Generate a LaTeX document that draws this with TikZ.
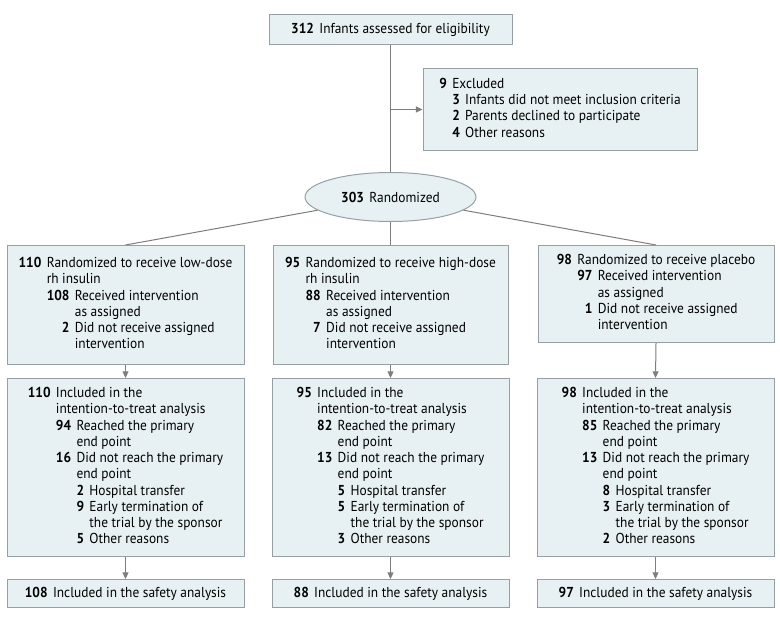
\documentclass[tikz,border=0pt]{standalone}
\usepackage{fontspec}
\setmainfont[FakeStretch=0.93]{PT Sans}
\usetikzlibrary{arrows.meta,shapes.geometric}
\definecolor{boxfill}{RGB}{231,241,244}
\definecolor{boxline}{RGB}{150,160,164}
\definecolor{linkgray}{RGB}{125,125,125}
\newcommand{\cnt}[1]{\textbf{#1}}
\tikzset{
  box/.style={draw=boxline, fill=boxfill, line width=0.75pt, inner sep=0pt, anchor=north,
    font=\fontsize{10.8}{12.2}\selectfont, align=left},
  link/.style={draw=linkgray, line width=0.75pt},
  arrow/.style={link, -{Triangle[length=5pt,width=4.5pt]}}
}
\begin{document}
\begin{tikzpicture}[x=0.75pt,y=0.75pt,yscale=-1,xscale=1]
\useasboundingbox (0,0) rectangle (780,620);

%Top box
\node [box, minimum width=182.25pt, minimum height=22.5pt] (elig) at (390.5,14) {\cnt{312}\hspace{4pt}Infants assessed for eligibility};
%Excluded
\node [box, minimum width=205.5pt, minimum height=61.5pt] (excl) at (560,68) {%
\begin{tabular}{@{}r@{\hspace{4pt}}r@{\hspace{4pt}}l@{}}
\cnt{9} & \multicolumn{2}{@{}l@{}}{Excluded}\\
 & \cnt{3} & Infants did not meet inclusion criteria\\
 & \cnt{2} & Parents declined to participate\\
 & \cnt{4} & Other reasons
\end{tabular}};
%Randomized
\node [box, ellipse, anchor=center, minimum width=128.25pt, minimum height=36.75pt] (rand) at (390.5,197) {\cnt{303}\hspace{4pt}Randomized};

%Arms
\node [box, minimum width=177.75pt, minimum height=89.25pt] (arm1) at (125.5,245) {%
\begin{tabular}{@{}r@{\hspace{4pt}}r@{\hspace{4pt}}l@{}}
\cnt{110} & \multicolumn{2}{@{}l@{}}{Randomized to receive low-dose}\\
 & \multicolumn{2}{@{}l@{}}{rh insulin}\\
 & \cnt{108} & Received intervention\\
 & & as assigned\\
 & \cnt{2} & Did not receive assigned\\
 & & intervention
\end{tabular}};
\node [box, minimum width=176.25pt, minimum height=89.25pt] (arm2) at (390.5,245) {%
\begin{tabular}{@{}r@{\hspace{4pt}}r@{\hspace{4pt}}l@{}}
\cnt{95} & \multicolumn{2}{@{}l@{}}{Randomized to receive high-dose}\\
 & \multicolumn{2}{@{}l@{}}{rh insulin}\\
 & \cnt{88} & Received intervention\\
 & & as assigned\\
 & \cnt{7} & Did not receive assigned\\
 & & intervention
\end{tabular}};
\node [box, minimum width=177pt, minimum height=72.75pt] (arm3) at (656,245) {%
\begin{tabular}{@{}r@{\hspace{4pt}}r@{\hspace{4pt}}l@{}}
\cnt{98} & \multicolumn{2}{@{}l@{}}{Randomized to receive placebo}\\
 & \cnt{97} & Received intervention\\
 & & as assigned\\
 & \cnt{1} & Did not receive assigned\\
 & & intervention
\end{tabular}};

%Intention-to-treat
\node [box, minimum width=177.75pt, minimum height=133.5pt] (itt1) at (125.5,378) {%
\begin{tabular}{@{}r@{\hspace{4pt}}r@{\hspace{4pt}}r@{\hspace{4pt}}l@{}}
\cnt{110} & \multicolumn{3}{@{}l@{}}{Included in the}\\
 & \multicolumn{3}{@{}l@{}}{intention-to-treat analysis}\\
 & \cnt{94} & \multicolumn{2}{@{}l@{}}{Reached the primary}\\
 & & \multicolumn{2}{@{}l@{}}{end point}\\
 & \cnt{16} & \multicolumn{2}{@{}l@{}}{Did not reach the primary}\\
 & & \multicolumn{2}{@{}l@{}}{end point}\\
 & & \cnt{2} & Hospital transfer\\
 & & \cnt{9} & Early termination of\\
 & & & the trial by the sponsor\\
 & & \cnt{5} & Other reasons
\end{tabular}};
\node [box, minimum width=177.75pt, minimum height=133.5pt] (itt2) at (390.5,378) {%
\begin{tabular}{@{}r@{\hspace{4pt}}r@{\hspace{4pt}}r@{\hspace{4pt}}l@{}}
\cnt{95} & \multicolumn{3}{@{}l@{}}{Included in the}\\
 & \multicolumn{3}{@{}l@{}}{intention-to-treat analysis}\\
 & \cnt{82} & \multicolumn{2}{@{}l@{}}{Reached the primary}\\
 & & \multicolumn{2}{@{}l@{}}{end point}\\
 & \cnt{13} & \multicolumn{2}{@{}l@{}}{Did not reach the primary}\\
 & & \multicolumn{2}{@{}l@{}}{end point}\\
 & & \cnt{5} & Hospital transfer\\
 & & \cnt{5} & Early termination of\\
 & & & the trial by the sponsor\\
 & & \cnt{3} & Other reasons
\end{tabular}};
\node [box, minimum width=177.75pt, minimum height=133.5pt] (itt3) at (655.5,378) {%
\begin{tabular}{@{}r@{\hspace{4pt}}r@{\hspace{4pt}}r@{\hspace{4pt}}l@{}}
\cnt{98} & \multicolumn{3}{@{}l@{}}{Included in the}\\
 & \multicolumn{3}{@{}l@{}}{intention-to-treat analysis}\\
 & \cnt{85} & \multicolumn{2}{@{}l@{}}{Reached the primary}\\
 & & \multicolumn{2}{@{}l@{}}{end point}\\
 & \cnt{13} & \multicolumn{2}{@{}l@{}}{Did not reach the primary}\\
 & & \multicolumn{2}{@{}l@{}}{end point}\\
 & & \cnt{8} & Hospital transfer\\
 & & \cnt{3} & Early termination of\\
 & & & the trial by the sponsor\\
 & & \cnt{2} & Other reasons
\end{tabular}};

%Safety
\node [box, minimum width=177.75pt, minimum height=21pt] (safe1) at (125.5,579) {\cnt{108}\hspace{4pt}Included in the safety analysis};
\node [box, minimum width=177.75pt, minimum height=21pt] (safe2) at (390.5,579) {\cnt{88}\hspace{4pt}Included in the safety analysis};
\node [box, minimum width=177.75pt, minimum height=21pt] (safe3) at (655.5,579) {\cnt{97}\hspace{4pt}Included in the safety analysis};

%Connectors
\draw [link] (elig) -- (rand);
\coordinate (split) at (elig.south |- excl.west);
\draw [arrow] (split) -- (excl.west);
\draw [link] (rand) -- (arm1.north);
\draw [link] (rand) -- (arm2.north);
\draw [link] (rand) -- (arm3.north);
\draw [arrow] (arm1) -- (itt1);
\draw [arrow] (arm2) -- (itt2);
\draw [arrow] (arm3.south) -- (itt3.north);
\draw [arrow] (itt1) -- (safe1);
\draw [arrow] (itt2) -- (safe2);
\draw [arrow] (itt3) -- (safe3);

\end{tikzpicture}
\end{document}
